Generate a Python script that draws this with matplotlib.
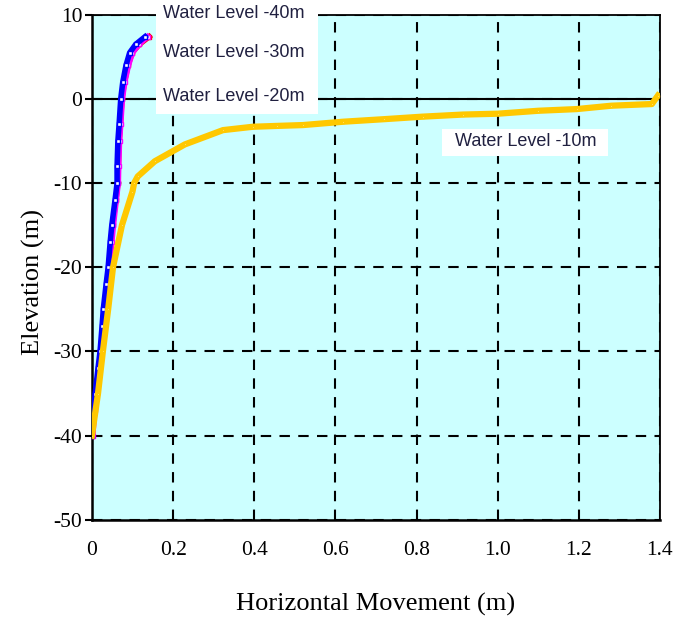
import numpy as np
import matplotlib
matplotlib.use('Agg')
import matplotlib.pyplot as plt
from matplotlib.patches import Rectangle

plt.rcParams['axes.unicode_minus'] = False

# 读数据
elev_deep = [-40, -37, -35, -32, -30, -27, -25, -22, -20, -17, -15, -12, -10,
             -8, -5, -3, 0, 2, 4, 5.5, 6.5, 7.4]
x_40m = [0.0, 0.004, 0.008, 0.015, 0.020, 0.025, 0.028, 0.035, 0.040, 0.045, 0.049,
         0.057, 0.062, 0.062, 0.064, 0.067, 0.071, 0.076, 0.084, 0.093, 0.108, 0.131]
x_30m = [0.002, 0.007, 0.011, 0.018, 0.023, 0.028, 0.031, 0.038, 0.043, 0.049, 0.053,
         0.060, 0.065, 0.066, 0.068, 0.071, 0.075, 0.081, 0.090, 0.100, 0.116, 0.137]
x_20m = [0.001, 0.006, 0.010, 0.017, 0.022, 0.027, 0.030, 0.037, 0.042, 0.047, 0.051,
         0.059, 0.064, 0.065, 0.067, 0.070, 0.074, 0.080, 0.089, 0.099, 0.117, 0.141]

elev_10m = [-40, -35, -30, -25, -20, -15, -11, -10, -9.2, -7.4, -5.4, -3.7, -3.3, -3.2,
            -3.1, -2.7, -2.4, -2.1, -1.85, -1.75, -1.4, -1.2, -0.8, -0.6, 0.4]
x_10m = [0.0, 0.015, 0.027, 0.040, 0.052, 0.074, 0.100, 0.104, 0.113, 0.155, 0.229, 0.323,
         0.397, 0.456, 0.52, 0.62, 0.72, 0.815, 0.915, 1.0, 1.10, 1.195, 1.28, 1.38, 1.395]

labels = ['Water Level -40m', 'Water Level -30m', 'Water Level -20m', 'Water Level -10m']
x_ticks = [0, 0.2, 0.4, 0.6, 0.8, 1.0, 1.2, 1.4]
x_ticklabels = ['0', '0.2', '0.4', '0.6', '0.8', '1.0', '1.2', '1.4']
y_ticks = [10, 0, -10, -20, -30, -40, -50]

fig = plt.figure(figsize=(6.86, 6.18), dpi=100)
ax = fig.add_axes([0.134, 0.159, 0.828, 0.817])
ax.set_facecolor('#ccffff')

# 曲线
ax.plot(x_20m, elev_deep, color='red', lw=4, marker='s', ms=2.5, mfc='white', mec='red', zorder=3)
ax.plot(x_30m, elev_deep, color='#ff00ff', lw=4, marker='s', ms=2.5, mfc='white', mec='#ff00ff', zorder=3)
ax.plot(x_40m, elev_deep, color='#0000ff', lw=4, marker='s', ms=2.5, mfc='white', mec='#0000ff', zorder=4)
ax.plot(x_10m, elev_10m, color='#ffc800', lw=4.5, marker='s', ms=2, mfc='white', mec='#ffc800', zorder=5)

ax.axhline(0, color='black', lw=1.5, zorder=2)

ax.set_xlim(0, 1.4)
ax.set_ylim(-50, 10)
ax.set_xticks(x_ticks)
ax.set_xticklabels(x_ticklabels)
ax.set_yticks(y_ticks)
ax.grid(True, ls=(0, (5, 4)), color='black', lw=1.5)
ax.set_axisbelow(True)
ax.tick_params(axis='x', length=0, pad=15)
ax.tick_params(axis='y', length=5, width=1.5, direction='out', pad=2)
for lab in ax.get_xticklabels() + ax.get_yticklabels():
    lab.set_family('Liberation Serif')
    lab.set_fontsize(15.5)
for s in ['left', 'bottom']:
    ax.spines[s].set_linewidth(1.8)
for s in ['top', 'right']:
    ax.spines[s].set_linewidth(1.3)

ax.set_xlabel('Horizontal Movement (m)', family='Liberation Serif', fontsize=19, labelpad=24)
ax.set_ylabel('Elevation (m)', family='Liberation Serif', fontsize=19)
ax.yaxis.set_label_coords(-0.083, 0.47)

# 图例文字框
ax.add_patch(Rectangle((0.158, -1.8), 0.399, 13.5, facecolor='white', edgecolor='none',
                       zorder=6, clip_on=False))
ax.add_patch(Rectangle((0.863, -6.8), 0.409, 3.2, facecolor='white', edgecolor='none',
                       zorder=6, clip_on=False))
for lab, ty in zip(labels[:3], [10.1, 5.5, 0.35]):
    ax.text(0.175, ty, lab, family='Liberation Sans', fontsize=13, color='#202040',
            va='center', ha='left', zorder=7, clip_on=False)
ax.text(0.895, -5.1, labels[3], family='Liberation Sans', fontsize=13, color='#202040',
        va='center', ha='left', zorder=7)

fig.savefig('out.png', dpi=100)
